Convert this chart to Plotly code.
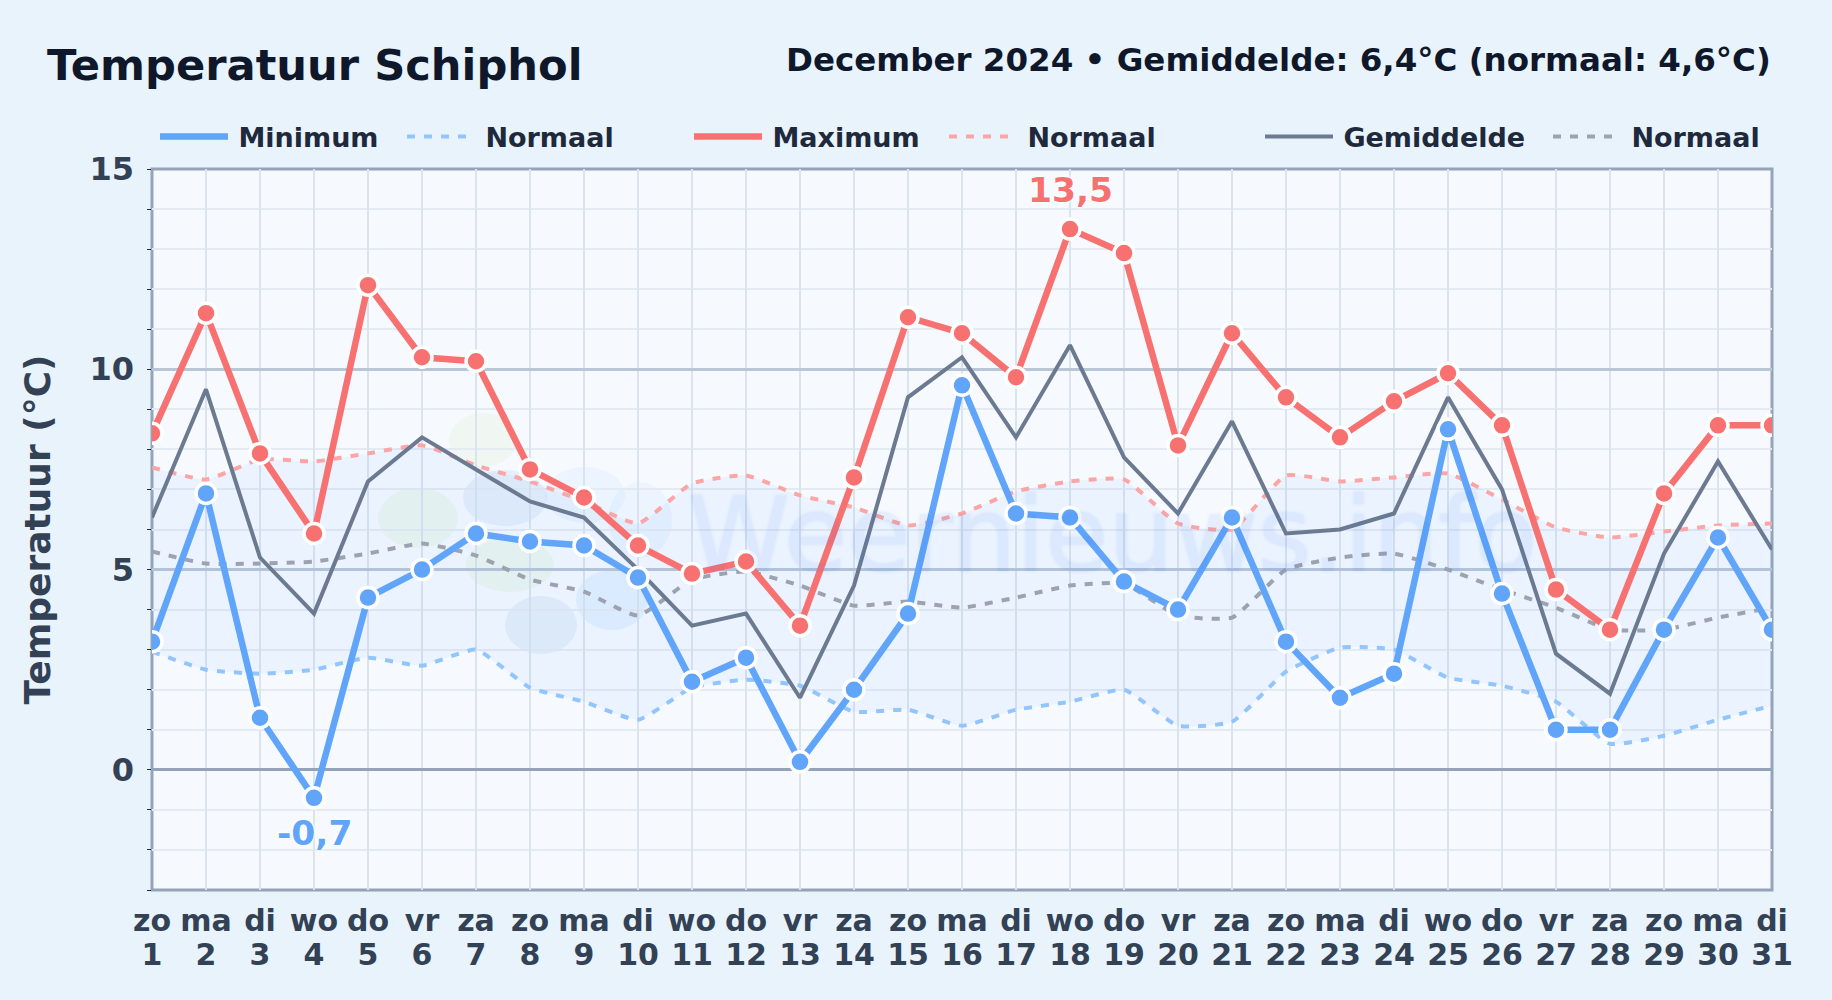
import plotly.graph_objects as go

days = list(range(1, 32))
weekdays = ["zo","ma","di","wo","do","vr","za"]*4 + ["zo","ma","di"]
t_min = [3.2,6.9,1.3,-0.7,4.3,5.0,5.9,5.7,5.6,4.8,2.2,2.8,0.2,2.0,3.9,9.6,6.4,6.3,4.7,4.0,6.3,3.2,1.8,2.4,8.5,4.4,1.0,1.0,3.5,5.8,3.5]
t_max = [8.4,11.4,7.9,5.9,12.1,10.3,10.2,7.5,6.8,5.6,4.9,5.2,3.6,7.3,11.3,10.9,9.8,13.5,12.9,8.1,10.9,9.3,8.3,9.2,9.9,8.6,4.5,3.5,6.9,8.6,8.6]
t_avg = [6.3,9.5,5.3,3.9,7.2,8.3,7.5,6.7,6.3,5.0,3.6,3.9,1.8,4.6,9.3,10.3,8.3,10.6,7.8,6.4,8.7,5.9,6.0,6.4,9.3,7.0,2.9,1.9,5.4,7.7,5.5]
n_min = [2.95,2.5,2.4,2.5,2.8,2.6,3.0,2.05,1.7,1.25,2.05,2.25,2.1,1.45,1.5,1.1,1.5,1.7,2.0,1.1,1.2,2.45,3.05,3.0,2.3,2.1,1.7,0.65,0.85,1.25,1.6]
n_max = [7.55,7.25,7.75,7.7,7.9,8.1,7.6,7.2,6.7,6.15,7.15,7.35,6.85,6.55,6.1,6.4,6.95,7.2,7.25,6.15,6.0,7.35,7.2,7.3,7.4,6.75,6.05,5.8,5.95,6.1,6.15]
n_avg = [5.45,5.15,5.15,5.2,5.4,5.65,5.35,4.75,4.45,3.85,4.75,4.95,4.6,4.1,4.2,4.05,4.3,4.6,4.65,3.85,3.8,5.0,5.3,5.4,5.0,4.5,4.05,3.5,3.5,3.8,4.05]

FONT = "DejaVu Sans"
BLUE, RED, GREY = "#60a5fa", "#f87171", "#6b7a90"
W, H = 1832, 1000
L, R, T, B = 152, 1772, 169, 890
PAGE = "#e8f3fc"
THIN = "\u2009"

def px(x):
    return (x - L) / (R - L)

def py(y):
    return (B - y) / (B - T)

SPLINE = dict(shape="spline", smoothing=0.45)

fig = go.Figure()
fig.add_trace(go.Scatter(x=days, y=n_min, mode="lines", line=dict(width=0, **SPLINE), showlegend=False, hoverinfo="skip"))
fig.add_trace(go.Scatter(x=days, y=n_max, mode="lines", line=dict(width=0, **SPLINE), fill="tonexty",
                         fillcolor="rgba(96,165,250,0.075)", showlegend=False, hoverinfo="skip"))

def line(y, name, color, width, legend, dash=None, smooth=False):
    style = dict(color=color, width=width, dash=dash)
    if smooth:
        style.update(SPLINE)
    fig.add_trace(go.Scatter(x=days, y=y, mode="lines", name=THIN + name, legend=legend, line=style))

line(n_min, "Normaal", "#93c5fd", 4, "legend2", "8px,9px", True)
line(n_max, "Normaal", "#fca5a5", 4, "legend4", "8px,9px", True)
line(n_avg, "Normaal", "#9ca3af", 4, "legend6", "8px,9px", True)
line(t_avg, "Gemiddelde", GREY, 4, "legend5")
line(t_max, "Maximum", RED, 6.5, "legend3")
line(t_min, "Minimum", BLUE, 6.5, "legend")

for y, c in ((t_max, RED), (t_min, BLUE)):
    fig.add_trace(go.Scatter(x=days, y=y, mode="markers", showlegend=False,
                             marker=dict(size=20, color=c, line=dict(color="white", width=3.5))))

# invisible carrier so the weekday axis is drawn
fig.add_trace(go.Scatter(x=days, y=t_avg, xaxis="x2", mode="lines", line=dict(width=0), showlegend=False, hoverinfo="skip"))

extremes = []
for val, src, c, shift in ((max(t_max), t_max, RED, 39), (min(t_min), t_min, BLUE, -35)):
    extremes.append(dict(x=days[src.index(val)], y=val, xref="x", yref="y", yshift=shift, showarrow=False,
                         text=f"{val}".replace(".", ","), xanchor="center", yanchor="middle",
                         font=dict(family=FONT, size=34.5, color=c, weight="bold",
                                   shadow="0 0 3px white, 0 0 3px white, 0 0 5px white")))

legend_x = [155, 402, 689, 944, 1260, 1548]
layout_legends = {}
for i, x0 in enumerate(legend_x):
    key = "legend" if i == 0 else f"legend{i+1}"
    layout_legends[key] = dict(x=px(x0), y=py(137), xref="paper", yref="paper", xanchor="left", yanchor="middle",
                               orientation="h", bgcolor="rgba(0,0,0,0)", itemwidth=68, itemclick=False,
                               font=dict(family=FONT, size=27, color="#1e293b", weight="bold"))

logo = [
    (483, 440, 34, 27, "#cfe8a9", 0.15), (418, 518, 40, 30, "#cfe8a9", 0.18), (510, 565, 44, 27, "#cfe8a9", 0.18),
    (505, 498, 42, 28, "#7fb2e6", 0.14), (585, 495, 40, 28, "#93c5fd", 0.11), (640, 520, 32, 38, "#93c5fd", 0.11),
    (541, 625, 36, 29, "#5b8fc7", 0.10), (612, 600, 36, 30, "#93c5fd", 0.16),
]
shapes = [dict(type="circle", xref="paper", yref="paper", layer="below", line=dict(width=0), fillcolor=col, opacity=op,
               x0=px(cx - rx), x1=px(cx + rx), y0=py(cy + ry), y1=py(cy - ry))
          for cx, cy, rx, ry, col, op in logo]
shapes.append(dict(type="rect", xref="paper", yref="paper", layer="between", x0=0, x1=1, y0=0, y1=1,
                   line=dict(color="#94a3b8", width=3)))

fig.update_layout(
    width=W, height=H, autosize=False,
    margin=dict(l=L, r=W - R, t=T, b=H - B),
    paper_bgcolor=PAGE, plot_bgcolor="#f6faff",
    font=dict(family=FONT),
    hovermode=False,
    shapes=shapes,
    **layout_legends,
    xaxis=dict(range=[1, 31], tickmode="array", tickvals=days, ticktext=[str(d) for d in days], showgrid=True,
               gridcolor="#dbe3ec", gridwidth=2, showline=False,
               ticks="", zeroline=False, tickangle=0, ticklabelstandoff=44,
               tickfont=dict(family=FONT, size=30, color="#334155", weight="bold")),
    xaxis2=dict(range=[1, 31], overlaying="x", anchor="y", side="bottom", tickmode="array", tickvals=days, ticktext=weekdays,
                showgrid=False, showline=False, ticks="", zeroline=False, tickangle=0, ticklabelstandoff=10,
                tickfont=dict(family=FONT, size=30, color="#334155", weight="bold")),
    yaxis=dict(range=[-3, 15], tickmode="array", tickvals=[0, 5, 10, 15], showgrid=True, gridcolor="#b9c6d6", gridwidth=3,
               showline=False, zeroline=True,
               zerolinecolor="#94a3b8", zerolinewidth=3, ticks="", ticklen=0, ticklabelstandoff=17,
               tickfont=dict(family=FONT, size=32, color="#334155", weight="bold"),
               minor=dict(dtick=1, tick0=0, showgrid=True, gridcolor="#e4eaf2", gridwidth=2, ticks="outside",
                          ticklen=4, tickcolor="#1e293b", tickwidth=1),
               title=dict(text="Temperatuur (°C)", standoff=27,
                          font=dict(family=FONT, size=36, color="#334155", weight="bold"))),
    annotations=[
        dict(text="Temperatuur Schiphol", x=px(45), y=py(65), xref="paper", yref="paper", xanchor="left",
             yanchor="middle", showarrow=False, font=dict(family=FONT, size=43.2, color="#0f172a", weight="bold")),
        dict(text="December 2024 • Gemiddelde: 6,4°C (normaal: 4,6°C)", x=px(1773), y=py(60), xref="paper",
             yref="paper", xanchor="right", yanchor="middle", showarrow=False,
             font=dict(family=FONT, size=32.5, color="#0f172a", weight="bold")),
        dict(text="Weernieuws.info", x=px(1112), y=py(535), xref="paper", yref="paper", xanchor="center",
             yanchor="middle", showarrow=False, opacity=0.07,
             font=dict(family=FONT, size=103, color="#2563eb",
                       shadow="0 0 3px #2563eb, 0 0 3px #2563eb")),
    ] + extremes,
)
fig.write_html("out.html", config=dict(displayModeBar=False),
               post_script=f"document.body.style.margin='0';document.body.style.background='{PAGE}';")
